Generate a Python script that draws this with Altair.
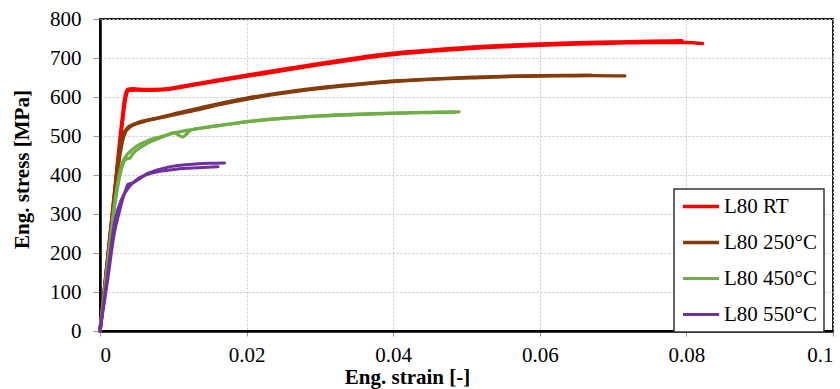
import altair as alt
import pandas as pd

# ---- data ----
conditions = ["L80 RT", "L80 250°C", "L80 450°C", "L80 550°C"]
colors = ["#ff0000", "#843c0c", "#70ad47", "#7030a0"]
widths = [3.5, 3.0, 2.5, 2.5]

rt_a_strain = [0, 0.001, 0.002, 0.003, 0.0034, 0.0038, 0.0045, 0.006, 0.0085, 0.011, 0.015, 0.02, 0.025, 0.03, 0.035, 0.04, 0.045, 0.05, 0.055, 0.06, 0.065, 0.07, 0.075, 0.0794]
rt_a_stress = [0, 180, 360, 540, 600, 620, 621, 619, 620, 627, 640, 656, 671, 686, 700, 712, 720, 727, 732, 736, 739, 741, 743, 744]
rt_b_strain = [0, 0.001, 0.002, 0.003, 0.0035, 0.0039, 0.005, 0.007, 0.009, 0.012, 0.016, 0.02, 0.025, 0.03, 0.035, 0.04, 0.045, 0.05, 0.055, 0.06, 0.065, 0.07, 0.075, 0.08, 0.0822]
rt_b_stress = [0, 175, 350, 525, 598, 617, 618, 617, 619, 628, 641, 653, 668, 683, 697, 709, 717, 724, 729, 733, 736, 738, 740, 740, 737]

b250_a_strain = [0, 0.001, 0.002, 0.0025, 0.003, 0.0037, 0.005, 0.0078, 0.01, 0.015, 0.02, 0.025, 0.03, 0.035, 0.04, 0.045, 0.05, 0.055, 0.06, 0.067]
b250_a_stress = [0, 178, 356, 440, 495, 520, 533, 546, 556, 578, 597, 612, 624, 633, 641, 646, 650, 653, 655, 656]
b250_b_strain = [0, 0.001, 0.002, 0.0028, 0.0033, 0.004, 0.006, 0.009, 0.012, 0.017, 0.022, 0.027, 0.032, 0.037, 0.042, 0.047, 0.052, 0.057, 0.062, 0.067, 0.0716]
b250_b_stress = [0, 170, 340, 460, 503, 522, 537, 550, 562, 583, 601, 615, 626, 635, 642, 647, 650, 653, 654, 655, 654]

g450_a_strain = [0, 0.001, 0.002, 0.003, 0.0035, 0.0041, 0.0045, 0.0055, 0.0065, 0.0078, 0.009, 0.0101, 0.0107, 0.0113, 0.0118, 0.0124, 0.014, 0.017, 0.02, 0.025, 0.03, 0.035, 0.04, 0.045, 0.049]
g450_a_stress = [0, 160, 320, 420, 440, 444, 455, 470, 482, 492, 501, 509, 503, 497, 505, 515, 521, 529, 537, 546, 552, 556, 559, 561, 562]
g450_b_strain = [0, 0.001, 0.002, 0.003, 0.004, 0.005, 0.0065, 0.008, 0.01, 0.012, 0.015, 0.02, 0.025, 0.03, 0.035, 0.04, 0.045, 0.0485]
g450_b_stress = [0, 165, 330, 430, 458, 474, 488, 497, 507, 515, 523, 536, 545, 551, 555, 558, 560, 561]

p550_a_strain = [0, 0.001, 0.002, 0.0025, 0.003, 0.0035, 0.0038, 0.0045, 0.0055, 0.0065, 0.0078, 0.009, 0.011, 0.013, 0.015, 0.017]
p550_a_stress = [0, 125, 255, 295, 332, 362, 376, 380, 392, 404, 413, 419, 425, 428, 430, 431]
p550_b_strain = [0, 0.001, 0.002, 0.003, 0.004, 0.005, 0.0065, 0.008, 0.01, 0.012, 0.014, 0.0161]
p550_b_stress = [0, 140, 280, 340, 370, 388, 402, 409, 414, 417, 419, 421]

x_ticks = [0, 0.02, 0.04, 0.06, 0.08, 0.1]
y_ticks = [0, 100, 200, 300, 400, 500, 600, 700, 800]

series = [
    ("L80 RT", "RT-a", rt_a_strain, rt_a_stress),
    ("L80 RT", "RT-b", rt_b_strain, rt_b_stress),
    ("L80 250°C", "250-a", b250_a_strain, b250_a_stress),
    ("L80 250°C", "250-b", b250_b_strain, b250_b_stress),
    ("L80 450°C", "450-a", g450_a_strain, g450_a_stress),
    ("L80 450°C", "450-b", g450_b_strain, g450_b_stress),
    ("L80 550°C", "550-a", p550_a_strain, p550_a_stress),
    ("L80 550°C", "550-b", p550_b_strain, p550_b_stress),
]
rows = []
for cond, spec, xs, ys in series:
    for x, y in zip(xs, ys):
        rows.append({"condition": cond, "specimen": spec, "strain": x, "stress": y})
df = pd.DataFrame(rows)

FONT = "Liberation Serif"

chart = (
    alt.Chart(df)
    .mark_line(interpolate="monotone", strokeCap="round", strokeJoin="round")
    .encode(
        x=alt.X(
            "strain:Q",
            scale=alt.Scale(domain=[0, 0.1], nice=False),
            axis=alt.Axis(
                values=x_ticks, format="~g", title="Eng. strain [-]",
                tickSize=5, labelPadding=8,
                titleX=307, titleY=35, titleBaseline="top",
            ),
        ),
        y=alt.Y(
            "stress:Q",
            scale=alt.Scale(domain=[0, 800], nice=False),
            axis=alt.Axis(
                values=y_ticks, title="Eng. stress [MPa]",
                tickSize=7, labelPadding=12,
                titleX=-78, titleY=150, titleBaseline="middle", titleAngle=-90,
            ),
        ),
        color=alt.Color(
            "condition:N",
            scale=alt.Scale(domain=conditions, range=colors),
            legend=alt.Legend(
                title=None, orient="none", legendX=574, legendY=170,
                symbolType="stroke", symbolSize=1296, symbolStrokeWidth=2.5,
                clipHeight=21, rowPadding=14, padding=7, labelOffset=3,
                strokeColor="#333333", fillColor="white",
                labelFont=FONT, labelFontSize=21, labelColor="black",
            ),
        ),
        strokeWidth=alt.StrokeWidth(
            "condition:N",
            scale=alt.Scale(domain=conditions, range=widths),
            legend=None,
        ),
        detail="specimen:N",
    )
    .properties(
        width=733, height=312,
        autosize=alt.AutoSizeParams(type="none"),
        padding={"left": 100, "top": 19, "right": 7, "bottom": 58},
    )
    .configure_view(stroke="#222222", strokeWidth=2)
    .configure_axis(
        labelFont=FONT, labelFontSize=21, labelColor="black",
        titleFont=FONT, titleFontSize=21, titleFontWeight="bold", titleColor="black",
        domainColor="black", domainWidth=2.5,
        tickColor="#999999", tickWidth=1,
        gridColor="#c8c8c8", gridDash=[2, 2], gridWidth=1,
    )
    .configure_legend(strokeWidth=1.5)
)

chart.save("out.html", embed_options={"renderer": "svg", "actions": False})
